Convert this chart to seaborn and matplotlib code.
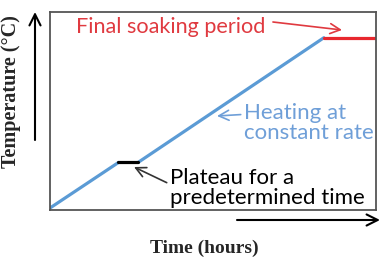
import matplotlib
matplotlib.use("Agg")
import matplotlib.pyplot as plt
import seaborn as sns
import pandas as pd

# Data (time in hours, temperature in % of final, arbitrary units)
ramp1_time = [0.0, 2.1]
ramp1_temp = [1.0, 24.0]
plateau_time = [2.1, 2.7]
plateau_temp = [24.0, 24.0]
ramp2_time = [2.7, 8.4]
ramp2_temp = [24.0, 87.0]
soak_time = [8.4, 10.0]
soak_temp = [87.0, 87.0]

sns.set_theme(style="white")
plt.rcParams['font.family'] = ['Lato', 'DejaVu Sans']

W, H = 381, 258
fig = plt.figure(figsize=(W / 100, H / 100), dpi=100)
ax = fig.add_axes([50 / W, (H - 210) / H, 326 / W, 198 / H])

blue = "#5b9bd5"
red = "#e8282e"
for t, v, c in [(ramp1_time, ramp1_temp, blue), (ramp2_time, ramp2_temp, blue),
                (plateau_time, plateau_temp, "black"), (soak_time, soak_temp, red)]:
    df = pd.DataFrame({"t": t, "v": v})
    sns.lineplot(data=df, x="t", y="v", color=c, lw=2.3, ax=ax, legend=False)

ax.set_xlim(0, 10)
ax.set_ylim(0, 100)
ax.set_xticks([])
ax.set_yticks([])
ax.set_xlabel("")
ax.set_ylabel("")
for s in ax.spines.values():
    s.set_color("#555555")
    s.set_linewidth(1.3)

def px(x, y):
    return (x, H - y)

ax.annotate("Final soaking period", xy=px(342, 30), xycoords='figure pixels',
            xytext=px(76, 27), textcoords='figure pixels', color="#e03a40",
            fontsize=15.6, va='center', ha='left',
            arrowprops=dict(arrowstyle='->', color="#e03a40", lw=1.2,
                            mutation_scale=18, shrinkA=0, shrinkB=0,
                            relpos=(1.04, 0.75)))
ax.annotate("Heating at\nconstant rate", xy=px(217, 116), xycoords='figure pixels',
            xytext=px(244, 123), textcoords='figure pixels', color="#6f9fd8",
            fontsize=16, va='center', ha='left', linespacing=0.95,
            arrowprops=dict(arrowstyle='->', color="#6f9fd8", lw=1.2,
                            mutation_scale=18, shrinkA=0, shrinkB=0,
                            relpos=(0, 0.72)))
ax.annotate("Plateau for a\npredetermined time", xy=px(134, 167), xycoords='figure pixels',
            xytext=px(170, 188), textcoords='figure pixels', color="black",
            fontsize=16, va='center', ha='left', linespacing=0.95,
            arrowprops=dict(arrowstyle='->', color="#333333", lw=1.2,
                            mutation_scale=18, shrinkA=0, shrinkB=0,
                            relpos=(-0.01, 0.62)))

# axis arrows
ax.annotate("", xy=px(35, 12), xycoords='figure pixels', xytext=px(35, 140),
            textcoords='figure pixels',
            arrowprops=dict(arrowstyle='->', color='black', lw=1.5, mutation_scale=20,
                            shrinkA=0, shrinkB=0), annotation_clip=False)
ax.annotate("", xy=px(380, 220), xycoords='figure pixels', xytext=px(237, 220),
            textcoords='figure pixels',
            arrowprops=dict(arrowstyle='->', color='black', lw=1.5, mutation_scale=20,
                            shrinkA=0, shrinkB=0), annotation_clip=False)

fig.text(11 / W, (H - 92) / H, "Temperature (°C)", rotation=90, ha='center', va='center',
         fontsize=14.5, fontweight='bold', family=['Liberation Serif', 'DejaVu Serif'])
fig.text(204 / W, (H - 248) / H, "Time (hours)", ha='center', va='center',
         fontsize=14, fontweight='bold', family=['Liberation Serif', 'DejaVu Serif'])

fig.savefig("out.png", dpi=100)
